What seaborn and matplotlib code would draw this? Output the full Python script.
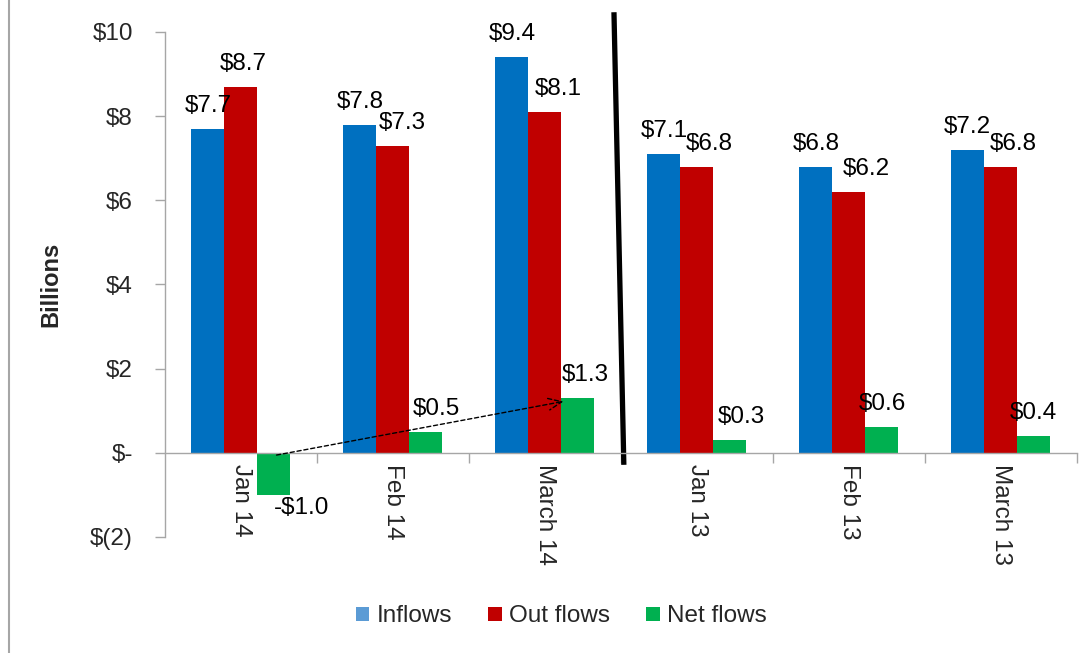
import matplotlib
matplotlib.use("Agg")
import matplotlib.pyplot as plt
import seaborn as sns
import pandas as pd
import numpy as np
from matplotlib.patches import Patch
from matplotlib.lines import Line2D
from matplotlib.ticker import FixedLocator, FixedFormatter

months = ["Jan 14", "Feb 14", "March 14", "Jan 13", "Feb 13", "March 13"]
series = ["Inflows", "Out flows", "Net flows"]
inflows = [7.7, 7.8, 9.4, 7.1, 6.8, 7.2]
outflows = [8.7, 7.3, 8.1, 6.8, 6.2, 6.8]
netflows = [-1.0, 0.5, 1.3, 0.3, 0.6, 0.4]
ytick_values = [-2, 0, 2, 4, 6, 8, 10]
ytick_labels = ["$(2)", "$-", "$2", "$4", "$6", "$8", "$10"]

colors = ["#0070C0", "#C00000", "#00B050"]
legend_colors = ["#5B9BD5", "#C00000", "#00B050"]

df = pd.DataFrame({
    "month": months * 3,
    "series": [series[0]] * 6 + [series[1]] * 6 + [series[2]] * 6,
    "value": inflows + outflows + netflows,
})

sns.set_theme(style="white")
plt.rcParams["font.family"] = ["Liberation Sans", "DejaVu Sans"]
FS = 17.5

fig = plt.figure(figsize=(10.92, 6.53), dpi=100)
ax = fig.add_axes([0.151, 0.178, 0.835, 0.773])

sns.barplot(data=df, x="month", y="value", hue="series", order=months,
            hue_order=series, palette=colors, saturation=1, width=0.65,
            linewidth=0, ax=ax, legend=False, errorbar=None)

ax.set_ylim(-2, 10)
ax.set_xlim(-0.5, 5.5)
ax.yaxis.set_major_locator(FixedLocator(ytick_values))
ax.yaxis.set_major_formatter(FixedFormatter(ytick_labels))
ax.tick_params(axis="y", which="major", direction="out", length=7, width=1,
               color="#A6A6A6", pad=16, labelsize=FS, left=True)

for s in ["top", "right"]:
    ax.spines[s].set_visible(False)
ax.spines["left"].set_color("#A6A6A6")
ax.spines["left"].set_linewidth(1)
ax.spines["bottom"].set_position(("data", 0))
ax.spines["bottom"].set_color("#A6A6A6")
ax.spines["bottom"].set_linewidth(1)

ax.set_xticks(range(len(months)))
ax.set_xticklabels(months, rotation=-90, fontsize=FS, va="top", ha="center")
ax.set_xticks(np.arange(0.5, 5.6, 1.0), minor=True)
ax.tick_params(axis="x", which="major", length=0, pad=8, bottom=True)
ax.tick_params(axis="x", which="minor", direction="out", length=7, width=1,
               color="#A6A6A6", bottom=True)
ax.set_xlabel("")
ax.set_ylabel("Billions", fontsize=17, fontweight="bold", labelpad=20)

# Data labels
label_dx = [[0, 0, 0, 0, 0, 0],
            [2, 9, 13, 12, 18, 13],
            [0, 11, 8, 12, 1, 0]]
vals = [inflows, outflows, netflows]
for si, cont in enumerate(ax.containers):
    for j, bar in enumerate(cont):
        v = vals[si][j]
        cx = bar.get_x() + bar.get_width() / 2
        if v < 0:
            txt = "-$%.1f" % abs(v)
            ax.annotate(txt, (cx, v), xytext=(0, -2), textcoords="offset pixels",
                        ha="left", va="top", fontsize=FS, color="black")
        else:
            txt = "$%.1f" % v
            ax.annotate(txt, (cx, v), xytext=(label_dx[si][j], 23),
                        textcoords="offset pixels", ha="center", va="center",
                        fontsize=FS, color="black")

# Dashed arrow from Jan 14 net to March 14 net
net_bars = ax.containers[2]
b0 = net_bars[0]
b2 = net_bars[2]
x0 = b0.get_x() + b0.get_width() / 2
x1 = b2.get_x() + b2.get_width() * 0.15
ax.annotate("", xy=(x1, netflows[2] - 0.07), xytext=(x0, -0.07),
            arrowprops=dict(arrowstyle="->,head_length=0.8,head_width=0.35",
                            linestyle=(0, (3, 2)), color="black", lw=1))

# Thick separator line
ax.add_line(Line2D([2.455, 2.52], [10.47, -0.29], color="black", lw=3.8,
                   clip_on=False, solid_capstyle="butt"))

# Legend
handles = [Patch(facecolor=c, edgecolor="none") for c in legend_colors]
fig.legend(handles, series, loc="center", bbox_to_anchor=(0.514, 0.056),
           ncol=3, frameon=False, fontsize=FS, handlelength=0.55,
           handleheight=0.55, handletextpad=0.3, columnspacing=1.5)

# Left frame line
fig.add_artist(Line2D([0.0085, 0.0085], [0, 1], transform=fig.transFigure,
                      color="#A6A6A6", lw=1.5))

fig.savefig("out.png", dpi=100)
